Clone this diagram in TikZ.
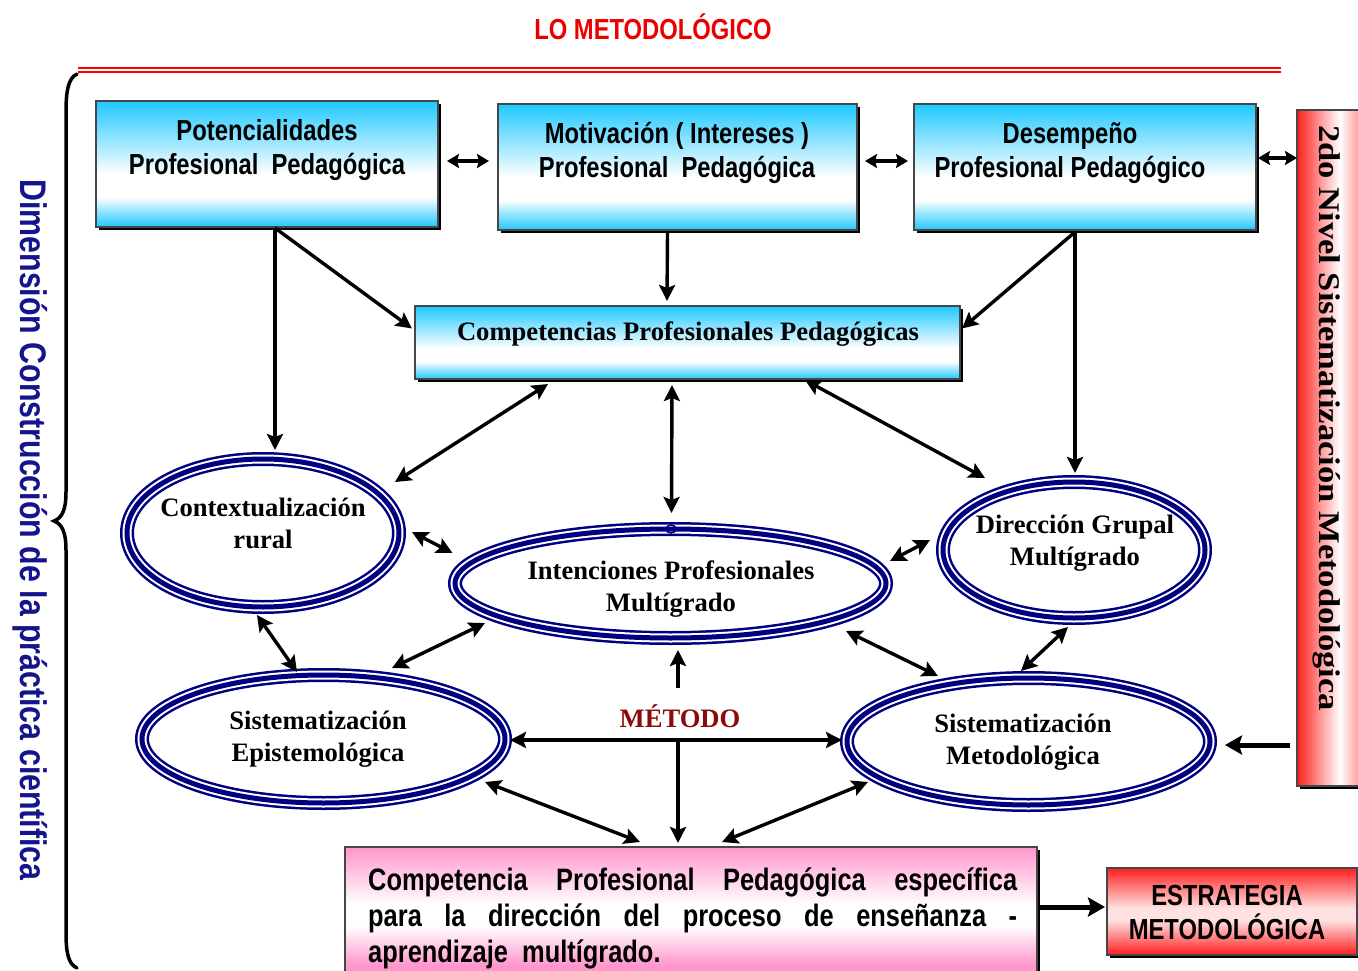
\documentclass[tikz,border=0pt]{standalone}
\usepackage{fontspec}
\setmainfont{Liberation Serif}
\newfontfamily\narrowsf[FakeStretch=0.82]{Liberation Sans}
\newfontfamily\wideserif[FakeStretch=1.15]{Liberation Serif}
\usetikzlibrary{arrows.meta,shapes.geometric,calc,shadows}
\definecolor{cyanC}{RGB}{30,200,255}
\definecolor{pinkC}{RGB}{255,150,204}
\definecolor{redC}{RGB}{255,30,30}
\definecolor{redL}{RGB}{255,225,225}
\definecolor{navyC}{RGB}{0,0,128}
\definecolor{dimC}{RGB}{20,20,140}
\definecolor{metC}{RGB}{140,10,10}
\definecolor{titleC}{RGB}{235,0,0}
\definecolor{edgeC}{RGB}{70,70,70}
\pgfdeclareverticalshading{cyanv}{100bp}{color(0bp)=(cyanC); color(25bp)=(cyanC); color(37bp)=(white); color(46bp)=(white); color(75bp)=(cyanC); color(100bp)=(cyanC)}
\pgfdeclareverticalshading{pinkv}{100bp}{color(0bp)=(pinkC); color(36bp)=(pinkC); color(49bp)=(white); color(56bp)=(white); color(75bp)=(pinkC); color(100bp)=(pinkC)}
\pgfdeclareverticalshading{redv}{100bp}{color(0bp)=(redC); color(25bp)=(redC); color(45bp)=(redL); color(52bp)=(redL); color(75bp)=(redC); color(100bp)=(redC)}
\pgfdeclarehorizontalshading{redh}{100bp}{color(0bp)=(redC); color(25bp)=(redC); color(50bp)=(white); color(75bp)=(redC); color(100bp)=(redC)}
\tikzset{
  box/.style={draw=edgeC, line width=2.5pt, inner sep=0pt, outer sep=0pt,
    drop shadow={shadow xshift=3pt, shadow yshift=-3pt, fill=black, opacity=1}},
  cyanbox/.style={box, shade, shading=cyanv},
  ell/.style={ellipse, inner sep=0pt, outer sep=7pt, draw=white, line width=9pt,
    preaction={fill=white, draw=navyC, line width=14pt},
    postaction={draw=navyC, line width=5pt}},
  boxtxt/.style={font=\narrowsf\bfseries\fontsize{29}{34}\selectfont, align=center, inner sep=0pt},
  elltxt/.style={font=\bfseries\fontsize{26.6}{32}\selectfont, align=center, inner sep=0pt},
  bottxt/.style={font=\narrowsf\bfseries\fontsize{31}{36}\selectfont, inner sep=0pt, anchor=base west},
  arr/.style={line width=3.4pt, -{Stealth[length=16pt,width=16pt,inset=3pt]}},
  dbl/.style={line width=3.4pt, {Stealth[length=16pt,width=16pt,inset=3pt]}-{Stealth[length=16pt,width=16pt,inset=3pt]}},
  dblsm/.style={line width=3.2pt, {Stealth[length=12pt,width=14pt,inset=2pt]}-{Stealth[length=12pt,width=14pt,inset=2pt]}},
  arrthick/.style={line width=5pt, -{Stealth[length=17pt,width=19pt,inset=3pt]}},
  redline/.style={draw=red, line width=2.4pt},
}
\begin{document}
\begin{tikzpicture}[x=1pt,y=-1pt]
\useasboundingbox (0,0) rectangle (1358,971);
\clip (0,0) rectangle (1358,971);

% title and red rule
\node[font=\narrowsf\bfseries\fontsize{29}{34}\selectfont, text=titleC, inner sep=0pt] (title) at (653,27) {LO METODOLÓGICO};
\draw[redline] (78,67.8) -- (1281,67.8);
\draw[redline] (78,72.2) -- (1281,72.2);

% left brace and text
\draw[line width=3.5pt, line cap=round] (77,74) .. controls (68,78) and (66,92) .. (66,112) -- (66,492)
  .. controls (66,510) and (62,518) .. (54,521) .. controls (62,524) and (66,532) .. (66,550)
  -- (66,932) .. controls (66,952) and (68,964) .. (77,968);
\node[rotate=-90, font=\narrowsf\bfseries\fontsize{37}{40}\selectfont, text=dimC, inner sep=0pt] (dimT) at (30,530) {Dimensión Construcción de la práctica científica};

% right bar
\node[box, shade, shading=redh, minimum width=86pt, minimum height=676pt] (bar) at (1340,448) {};
\node[rotate=-90, font=\wideserif\bfseries\fontsize{30}{34}\selectfont, inner sep=0pt] (barT) at (1327,418) {2do Nivel Sistematización Metodológica};

% top boxes
\node[cyanbox, minimum width=342pt, minimum height=126pt] (b1) at (267,164) {};
\node[boxtxt] (b1T) at (267,150) {Potencialidades\\Profesional\ \ Pedagógica};
\node[cyanbox, minimum width=359pt, minimum height=126pt] (b2) at (677.5,167) {};
\node[boxtxt] (b2T) at (677,153) {Motivación ( Intereses )\\Profesional\ \ Pedagógica};
\node[cyanbox, minimum width=342pt, minimum height=126pt] (b3) at (1085,167) {};
\node[boxtxt] (b3T) at (1070,153) {Desempeño\\Profesional Pedagógico};

% competencias
\node[cyanbox, minimum width=545pt, minimum height=73pt] (cp) at (687.5,342.5) {};
\node[elltxt] (cpT) at (688,334) {Competencias Profesionales Pedagógicas};

% ellipses
\node[ell, minimum width=272pt, minimum height=148pt] (ctx) at (263,533) {};
\node[elltxt] (ctxT) at (263,523) {Contextualización\\rural};
\node[ell, minimum width=431pt, minimum height=109pt] (int) at (670.5,583.5) {};
\node[elltxt] (intT) at (671,589) {Intenciones Profesionales\\Multígrado};
\node[ell, minimum width=262pt, minimum height=136pt] (dir) at (1074,550) {};
\node[elltxt] (dirT) at (1075,543) {Dirección Grupal\\Multígrado};
\node[ell, minimum width=363pt, minimum height=128pt] (se) at (323.5,739) {};
\node[elltxt] (seT) at (318,739) {Sistematización\\Epistemológica};
\node[ell, minimum width=363pt, minimum height=127pt] (sm) at (1028.5,741.5) {};
\node[elltxt] (smT) at (1023,742) {Sistematización\\Metodológica};
\draw[navyC, line width=1.5pt] ($(int.north)+(0.5,7)$) ellipse[x radius=5pt, y radius=4pt];

% metodo
\node[elltxt, text=metC] (met) at (680,716) {MÉTODO};

% bottom boxes
\node[box, shade, shading=pinkv, minimum width=692pt, minimum height=152pt] (bot) at (691,923) {};
\node[bottxt] (botT1) at (368,890) {\makebox[649pt][s]{Competencia Profesional Pedagógica específica}};
\node[bottxt] (botT2) at (368,926) {\makebox[649pt][s]{para la dirección del proceso de enseñanza -}};
\node[bottxt] (botT3) at (368,962) {aprendizaje\ \ multígrado.};
\node[box, shade, shading=redv, minimum width=250pt, minimum height=87pt] (est) at (1232,911.5) {};
\node[boxtxt] (estT) at (1227,913) {ESTRATEGIA\\METODOLÓGICA};

% connectors between top boxes
\draw[dblsm] ($(b1.east)+(9,-3)$) -- ($(b2.west)+(-9,-6)$);
\draw[dblsm] ($(b2.east)+(8,-6)$) -- ($(b3.west)+(-6,-6)$);
\draw[dblsm] ($(b3.east)+(2,-9)$) -- ($(bar.west)+(0,-290)$);

% from top boxes
\draw[arr] ($(b1.south)+(8,1)$) -- ($(ctx.north)+(12,-2)$);
\draw[arr] ($(b1.south)+(8,1)$) -- ($(cp.west)+(-3,-14)$);
\draw[arr] ($(b2.south)+(-10,2)$) -- ($(cp.north)+(-20.5,-5)$);
\draw[arr] ($(b3.south)+(-10,2)$) -- ($(cp.east)+(2,-14)$);
\draw[arr] ($(b3.south)+(-10,2)$) -- ($(dir.north)+(1,-2)$);

% from competencias
\draw[dbl] ($(cp.south)+(-139.5,5)$) -- ($(ctx)+(132,-51)$);
\draw[dbl] ($(cp.south)+(-15.5,6)$) -- ($(int.north)+(1,-9)$);
\draw[dbl] ($(cp.south)+(117.5,1)$) -- ($(dir)+(-89,-72)$);

% among ellipses
\draw[dbl] ($(ctx)+(149,-1)$) -- ($(int)+(-218,-30.5)$);
\draw[dbl] ($(int)+(219.5,-22.5)$) -- ($(dir)+(-144,-10)$);
\draw[dbl] ($(ctx)+(-6,82)$) -- ($(se)+(-26.5,-67)$);
\draw[dbl] ($(int)+(-185.5,39.5)$) -- ($(se)+(68.5,-71)$);
\draw[dbl] ($(int)+(175.5,47.5)$) -- ($(sm)+(-90.5,-65.5)$);
\draw[dbl] ($(dir)+(-6,77)$) -- ($(sm)+(-7.5,-70.5)$);

% metodo arrows
\draw[arr] ($(met)+(-2,-28)$) -- ($(int.south)+(7.5,5)$);
\draw[dbl] ($(se.east)+(-2,1)$) -- ($(sm.west)+(2,-1.5)$);
\coordinate (jn) at (678,740);
\draw[arr] (jn) -- ($(bot.north)+(-13,-4)$);
\draw[dbl] ($(se)+(161.5,43)$) -- ($(bot.north)+(-51,-5)$);
\draw[dbl] ($(sm)+(-160.5,40.5)$) -- ($(bot.north)+(31,-5)$);

% thick arrows
\draw[arrthick] ($(bar.west)+(-7,297)$) -- ($(sm.east)+(8,3.5)$);
\draw[arrthick] ($(bot.east)+(3,-16)$) -- ($(est.west)+(-2,-4.5)$);
\end{tikzpicture}
\end{document}
